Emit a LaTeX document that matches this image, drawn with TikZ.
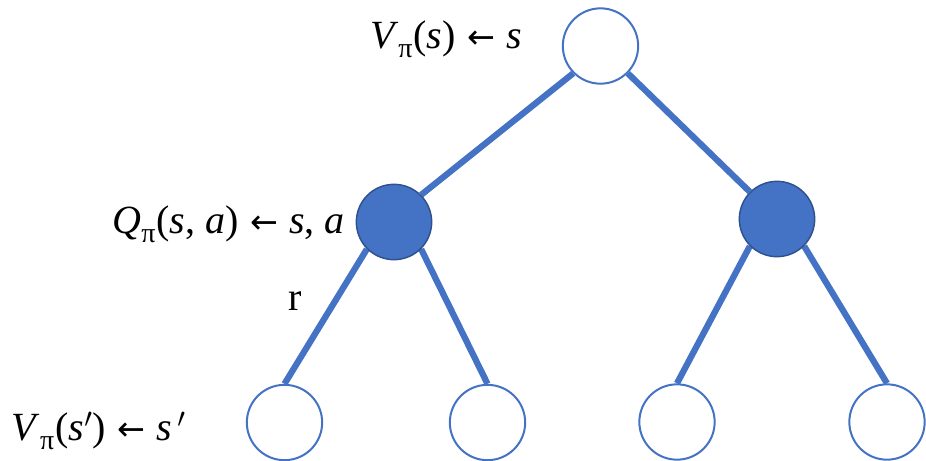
\documentclass[tikz,border=0pt]{standalone}
\usepackage{fontspec}
\setmainfont{Liberation Serif}
\newfontfamily\arrowfont{DejaVu Sans}
\usetikzlibrary{backgrounds}
\definecolor{accblue}{HTML}{4472C4}
\definecolor{darkblue}{HTML}{2F528F}
\newcommand{\pisub}{\raisebox{-0.24em}{\fontsize{21}{22}\selectfont π}\hspace{0.03em}}
\newcommand{\larr}{\hspace{0.28em}{\arrowfont\fontsize{25}{28}\selectfont ←}\hspace{0.28em}}
\begin{document}
\begin{tikzpicture}[x=0.75pt,y=-0.75pt,
  emptystate/.style={circle,draw=accblue,line width=1.5pt,fill=white,minimum size=56.5pt,inner sep=0pt},
  fullstate/.style={circle,draw=darkblue,line width=1.1pt,fill=accblue,minimum size=56.5pt,inner sep=0pt},
  treeedge/.style={draw=accblue,line width=4.7pt},
  mathlabel/.style={inner sep=0pt,font=\fontsize{30}{34}\selectfont}]
\useasboundingbox (0,0) rectangle (926,461);
\node[emptystate] (top) at (600.5,46) {};
\node[fullstate] (mL) at (394,222) {};
\node[fullstate] (mR) at (777,219) {};
\node[emptystate] (bA) at (284.5,422.5) {};
\node[emptystate] (bB) at (487.5,422.5) {};
\node[emptystate] (bC) at (677,422) {};
\node[emptystate] (bD) at (887,422) {};
\begin{scope}[on background layer]
\draw[treeedge] (top.south west) -- (mL.north east);
\draw[treeedge] (top.south east) -- (mR.north west);
\draw[treeedge] (mL.south west) -- (bA.north);
\draw[treeedge] (mL.south east) -- (bB.north);
\draw[treeedge] (mR.south west) -- (bC.north);
\draw[treeedge] (mR.south east) -- (bD.north);
\end{scope}
\node[mathlabel,anchor=base east] (ltop) at (522,48) {\textit{V}\pisub(\textit{s})\larr\textit{s}};
\node[mathlabel,anchor=base east] (lmid) at (345,233) {\textit{Q}\pisub(\textit{s}, \textit{a})\larr\textit{s}, \textit{a}};
\node[mathlabel,anchor=base east] (lbot) at (186,440) {\textit{V}\pisub(\textit{s}$'$)\larr\textit{s}$\,'$};
\node[mathlabel,anchor=base] (lr) at (295,310) {r};
\end{tikzpicture}
\end{document}
